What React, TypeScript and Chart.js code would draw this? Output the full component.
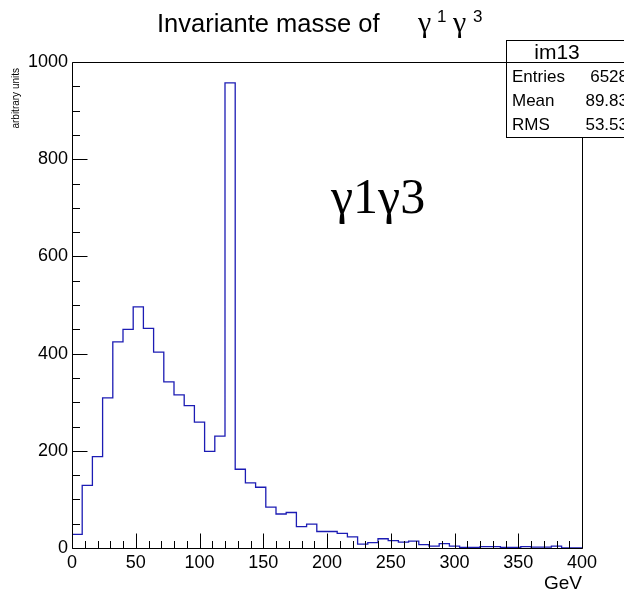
import { useEffect, useRef } from "react";
import { Chart, registerables } from "chart.js";

Chart.register(...registerables);

// Histogram: 50 bins of 8 GeV between 0 and 400 GeV
const binLowEdges = [
  0, 8, 16, 24, 32, 40, 48, 56, 64, 72,
  80, 88, 96, 104, 112, 120, 128, 136, 144, 152,
  160, 168, 176, 184, 192, 200, 208, 216, 224, 232,
  240, 248, 256, 264, 272, 280, 288, 296, 304, 312,
  320, 328, 336, 344, 352, 360, 368, 376, 384, 392,
];
const binCounts = [
  28, 129, 188, 309, 424, 450, 496, 452, 403, 342,
  315, 293, 259, 199, 230, 957, 162, 134, 125, 84,
  70, 73, 44, 49, 34, 34, 30, 23, 8, 11,
  19, 15, 12, 14, 7, 4, 9, 4, 1, 1,
  3, 3, 1, 1, 3, 2, 2, 4, 0, 0,
];
const xRangeMax = 400;
const xTickLabels = ["0", "50", "100", "150", "200", "250", "300", "350", "400"];
const yTickLabels = ["0", "200", "400", "600", "800", "1000"];
const statsName = "im13";
const statsLabels = ["Entries", "Mean", "RMS"];
const statsValues = ["6528", "89.83", "53.53"];

const SANS = "'Liberation Sans', Arial, Helvetica, sans-serif";
const SERIF = "'Liberation Serif', 'Times New Roman', serif";

const decorPlugin = {
  id: "rootDecor",
  afterDatasetsDraw(chart: any) {
    const { ctx, chartArea } = chart;
    const xs = chart.scales.x;
    const ys = chart.scales.y;
    const L = Math.round(chartArea.left) + 0.5;
    const R = Math.round(chartArea.right) + 0.5;
    const T = Math.round(chartArea.top) + 0.5;
    const B = Math.round(chartArea.bottom) + 0.5;
    ctx.save();
    ctx.strokeStyle = "#000";
    ctx.lineWidth = 1;
    ctx.beginPath();
    ctx.rect(L, T, R - L, B - T);
    ctx.stroke();
    ctx.beginPath();
    for (let v = 0; v <= xRangeMax; v += 10) {
      const px = Math.round(xs.getPixelForValue(v)) + 0.5;
      const len = v % 50 === 0 ? 15 : 7.5;
      ctx.moveTo(px, B);
      ctx.lineTo(px, B - len);
    }
    for (let v = 0; v <= 1000; v += 50) {
      const py = Math.round(ys.getPixelForValue(v)) + 0.5;
      const len = v % 200 === 0 ? 15 : 7.5;
      ctx.moveTo(L, py);
      ctx.lineTo(L + len, py);
    }
    ctx.stroke();
    ctx.restore();
  },
  afterDraw(chart: any) {
    const { ctx } = chart;
    ctx.save();
    ctx.fillStyle = "#000";
    ctx.textBaseline = "alphabetic";

    // Title
    const by = 32;
    ctx.textAlign = "left";
    ctx.font = `25.5px ${SANS}`;
    ctx.fillText("Invariante masse of", 157, by);
    ctx.font = `30px ${SERIF}`;
    ctx.fillText("γ", 418, by);
    ctx.fillText("γ", 453, by);
    ctx.font = `17px ${SANS}`;
    ctx.fillText("1", 437, by - 10);
    ctx.fillText("3", 473, by - 10);

    // Big label
    ctx.font = `50px ${SERIF}`;
    ctx.fillText("γ1γ3", 331, 213);

    // Y axis title
    ctx.save();
    ctx.translate(19, 68);
    ctx.rotate(-Math.PI / 2);
    ctx.font = `10px ${SANS}`;
    ctx.textAlign = "right";
    ctx.fillText("arbitrary units", 0, 0);
    ctx.restore();

    // X axis title
    ctx.font = `19px ${SANS}`;
    ctx.textAlign = "right";
    ctx.fillText("GeV", 582, 589);

    // Stats box
    const bx = 506.5, bt = 40.5, bw = 140, bh = 97;
    ctx.fillStyle = "#fff";
    ctx.fillRect(bx, bt, bw, bh);
    ctx.strokeStyle = "#000";
    ctx.lineWidth = 1;
    ctx.strokeRect(bx, bt, bw, bh);
    ctx.beginPath();
    ctx.moveTo(bx, 62.5);
    ctx.lineTo(bx + bw, 62.5);
    ctx.stroke();
    ctx.fillStyle = "#000";
    ctx.font = `21px ${SANS}`;
    ctx.textAlign = "center";
    ctx.fillText(statsName, 557, 59);
    ctx.font = `17px ${SANS}`;
    const rowY = [82, 106, 130];
    statsLabels.forEach((lab, i) => {
      ctx.textAlign = "left";
      ctx.fillText(lab, 512, rowY[i]);
      ctx.textAlign = "right";
      ctx.fillText(statsValues[i], 628, rowY[i]);
    });
    ctx.restore();
  },
};

export default function App() {
  const ref = useRef<HTMLCanvasElement>(null);
  useEffect(() => {
    document.body.style.margin = "0";
    const pts: { x: number; y: number }[] = [{ x: 0, y: 0 }];
    binLowEdges.forEach((e, i) => pts.push({ x: e, y: binCounts[i] }));
    pts.push({ x: xRangeMax, y: binCounts[binCounts.length - 1] });
    const chart = new Chart(ref.current!, {
      type: "line",
      data: {
        datasets: [
          {
            data: pts,
            stepped: "before",
            borderColor: "#1c1cb4",
            borderWidth: 1.3,
            pointRadius: 0,
            fill: false,
          },
        ],
      },
      options: {
        animation: false,
        responsive: false,
        devicePixelRatio: 1,
        layout: { padding: { top: 62, right: 42, left: 0, bottom: 0 } },
        plugins: { legend: { display: false }, tooltip: { enabled: false }, title: { display: false } },
        scales: {
          x: {
            type: "linear",
            min: 0,
            max: xRangeMax,
            grid: { display: false, drawTicks: false },
            border: { display: false },
            afterFit: (s: any) => { s.height = 45; },
            ticks: {
              stepSize: 50,
              autoSkip: false,
              maxRotation: 0,
              padding: 4,
              color: "#000",
              font: { family: SANS, size: 18 },
              callback: (v: any) => {
                const idx = Math.round(Number(v) / 50);
                return xTickLabels[idx] ?? "";
              },
            },
          },
          y: {
            type: "linear",
            min: 0,
            max: 1000,
            grid: { display: false, drawTicks: false },
            border: { display: false },
            afterFit: (s: any) => { s.width = 72; },
            ticks: {
              stepSize: 200,
              autoSkip: false,
              padding: 4,
              color: "#000",
              font: { family: SANS, size: 18 },
              callback: (v: any) => {
                const idx = Math.round(Number(v) / 200);
                return yTickLabels[idx] ?? "";
              },
            },
          },
        },
      },
      plugins: [decorPlugin],
    });
    return () => chart.destroy();
  }, []);
  return (
    <div style={{ position: "absolute", left: 0, top: 0, width: 624, height: 593, background: "#fff" }}>
      <canvas ref={ref} width={624} height={593} style={{ width: 624, height: 593, display: "block" }} />
    </div>
  );
}
